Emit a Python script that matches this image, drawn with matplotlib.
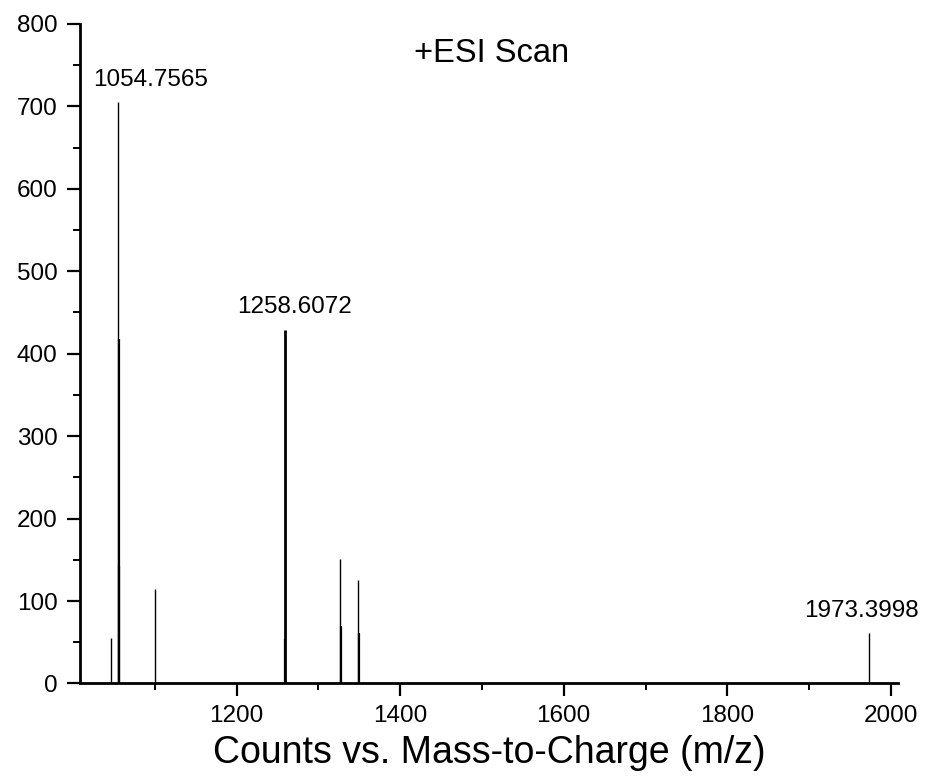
import matplotlib.pyplot as plt
from matplotlib.ticker import MultipleLocator

mz     = [1046.3, 1054.7565, 1055.6, 1056.4, 1100.2, 1258.6072, 1259.6, 1326.4, 1327.3, 1348.2, 1349.4, 1973.3998]
counts = [55, 705, 418, 143, 114, 429, 54, 151, 70, 125, 61, 61]
widths = [1.0, 1.0, 1.6, 1.6, 1.0, 2.0, 1.6, 1.0, 1.6, 1.0, 1.6, 1.0]

labelled = [1054.7565, 1258.6072, 1973.3998]
label_h  = [705, 429, 61]
label_dx = [40, 12, -9]

plt.rcParams['font.family'] = ['Liberation Sans', 'DejaVu Sans']

fig = plt.figure(figsize=(9.25, 7.78), dpi=100)
ax = fig.add_axes([0.087, 0.1215, 0.884, 0.8477])

ax.vlines(mz, 0, counts, colors='black', linewidth=widths)

for x, h, dx in zip(labelled, label_h, label_dx):
    ax.text(x + dx, h + 14, '%.4f' % x, ha='center', va='bottom', fontsize=17.5)

ax.text(0.503, 0.955, '+ESI Scan', transform=ax.transAxes, ha='center', va='center', fontsize=23.5)

ax.set_xlim(1009, 2009)
ax.set_ylim(0, 800)
ax.xaxis.set_major_locator(MultipleLocator(200))
ax.xaxis.set_minor_locator(MultipleLocator(100))
ax.yaxis.set_major_locator(MultipleLocator(100))
ax.yaxis.set_minor_locator(MultipleLocator(50))

for s in ['top', 'right']:
    ax.spines[s].set_visible(False)
for s in ['left', 'bottom']:
    ax.spines[s].set_linewidth(2)

ax.tick_params(which='major', length=9.4, width=1.6, labelsize=17.5, direction='out')
ax.tick_params(axis='x', which='major', pad=6)
ax.tick_params(axis='y', which='major', pad=7)
ax.tick_params(which='minor', length=5, width=1.4, direction='out')
ax.set_xlabel('Counts vs. Mass-to-Charge (m/z)', fontsize=27, labelpad=6)

fig.savefig('out.png', dpi=100)
